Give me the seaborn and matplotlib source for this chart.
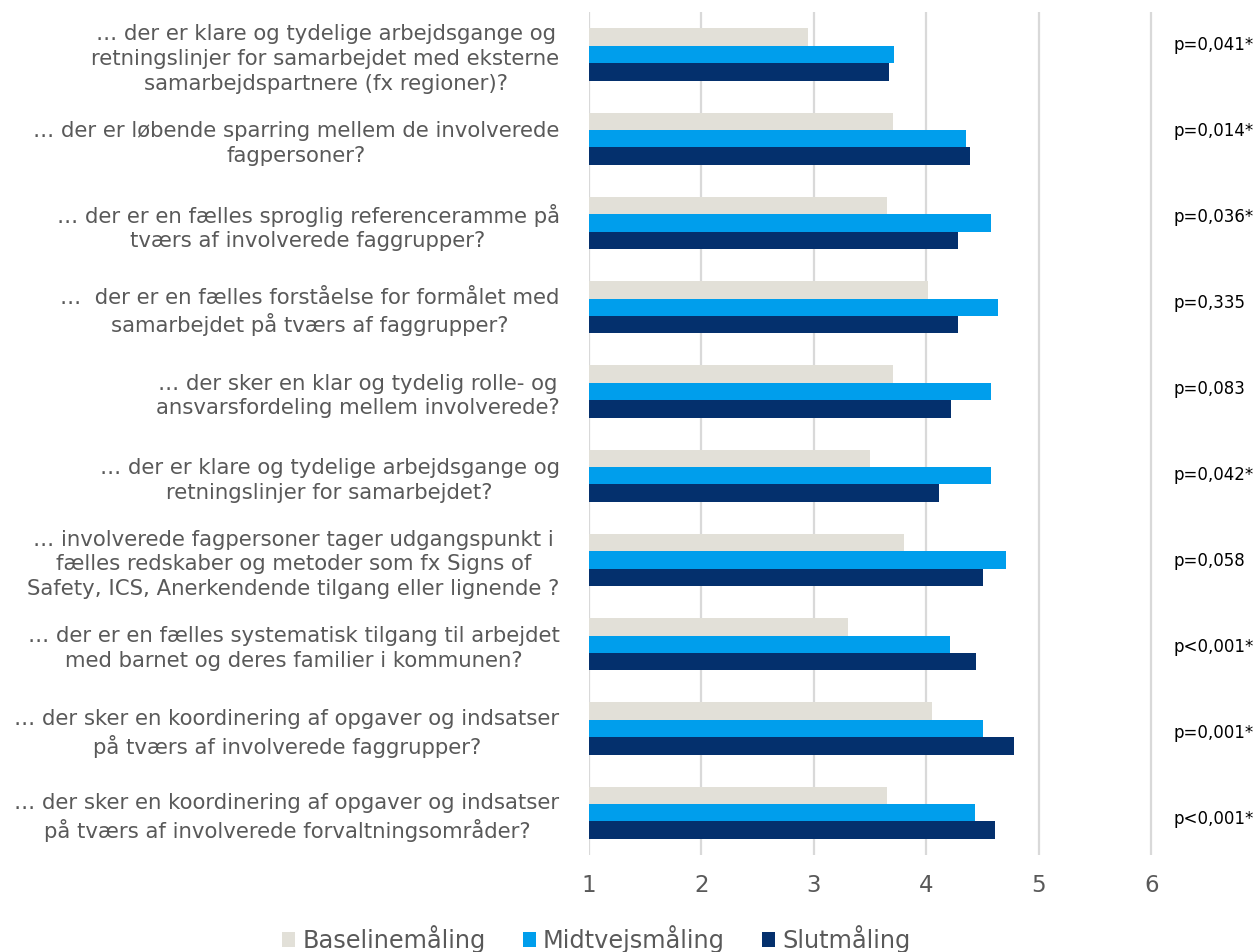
import matplotlib
matplotlib.use("Agg")
import matplotlib.pyplot as plt
import seaborn as sns
import pandas as pd

questions = [
    "… der er klare og tydelige arbejdsgange og\nretningslinjer for samarbejdet med eksterne\nsamarbejdspartnere (fx regioner)?",
    "… der er løbende sparring mellem de involverede\nfagpersoner?",
    "… der er en fælles sproglig referenceramme på\ntværs af involverede faggrupper?",
    "…  der er en fælles forståelse for formålet med\nsamarbejdet på tværs af faggrupper?",
    "… der sker en klar og tydelig rolle- og\nansvarsfordeling mellem involverede?",
    "… der er klare og tydelige arbejdsgange og\nretningslinjer for samarbejdet?",
    "… involverede fagpersoner tager udgangspunkt i\nfælles redskaber og metoder som fx Signs of\nSafety, ICS, Anerkendende tilgang eller lignende ?",
    "… der er en fælles systematisk tilgang til arbejdet\nmed barnet og deres familier i kommunen?",
    "… der sker en koordinering af opgaver og indsatser\npå tværs af involverede faggrupper?",
    "… der sker en koordinering af opgaver og indsatser\npå tværs af involverede forvaltningsområder?",
]

measures = ["Baselinemåling", "Midtvejsmåling", "Slutmåling"]

baseline = [2.95, 3.70, 3.65, 4.01, 3.70, 3.50, 3.80, 3.30, 4.05, 3.65]
midtvejs = [3.71, 4.35, 4.57, 4.64, 4.57, 4.57, 4.71, 4.21, 4.50, 4.43]
slut = [3.67, 4.39, 4.28, 4.28, 4.22, 4.11, 4.50, 4.44, 4.78, 4.61]

p_values = ["p=0,041*", "p=0,014*", "p=0,036*", "p=0,335", "p=0,083",
            "p=0,042*", "p=0,058", "p<0,001*", "p=0,001*", "p<0,001*"]

x_ticks = [1, 2, 3, 4, 5, 6]

colors = ["#E2E0D8", "#009EEC", "#04306D"]

rows = []
for series_name, series in zip(measures, [baseline, midtvejs, slut]):
    for q, v in zip(questions, series):
        rows.append({"spm": q, "gennemsnit": v, "måling": series_name})
df = pd.DataFrame(rows)

sns.set_theme(style="white")
plt.rcParams["font.family"] = ["DejaVu Sans"]

text_grey = "#595959"

fig = plt.figure(figsize=(12.58, 9.52), dpi=100)
ax = fig.add_axes([0.468, 0.102, 0.4484, 0.885])

sns.barplot(data=df, y="spm", x="gennemsnit", hue="måling", orient="h",
            order=questions, hue_order=measures, palette=colors,
            width=0.62, saturation=1, linewidth=0, ax=ax, errorbar=None)

ax.set_xlim(1, 6.012)
ax.set_xticks(x_ticks)
ax.set_xticklabels([str(t) for t in x_ticks], fontsize=16.5, color=text_grey)
ax.set_xlabel("")
ax.set_ylabel("")
ax.grid(axis="x", color="#D9D9D9", linewidth=1.6)
ax.grid(axis="y", visible=False)
ax.set_axisbelow(True)
for s in ax.spines.values():
    s.set_visible(False)
ax.tick_params(axis="x", length=0, pad=14)
ax.tick_params(axis="y", length=0, pad=21)
for lbl in ax.get_yticklabels():
    lbl.set_fontsize(15.3)
    lbl.set_color(text_grey)
    lbl.set_multialignment("center")
    lbl.set_linespacing(1.3)

# significance labels to the right of the scale
for i, p in enumerate(p_values):
    ax.text(6.2, i * 1.0196 - 0.107, p, fontsize=12, color="black",
            va="center", ha="left", clip_on=False)

handles, labels = ax.get_legend_handles_labels()
ax.get_legend().remove()
fig.legend(handles, labels, loc="lower center", bbox_to_anchor=(0.474, -0.024),
           ncol=3, frameon=False, fontsize=17.3, labelcolor=text_grey,
           handlelength=0.55, handleheight=0.55, handletextpad=0.3,
           columnspacing=1.55)

fig.savefig("out.png", dpi=100)
